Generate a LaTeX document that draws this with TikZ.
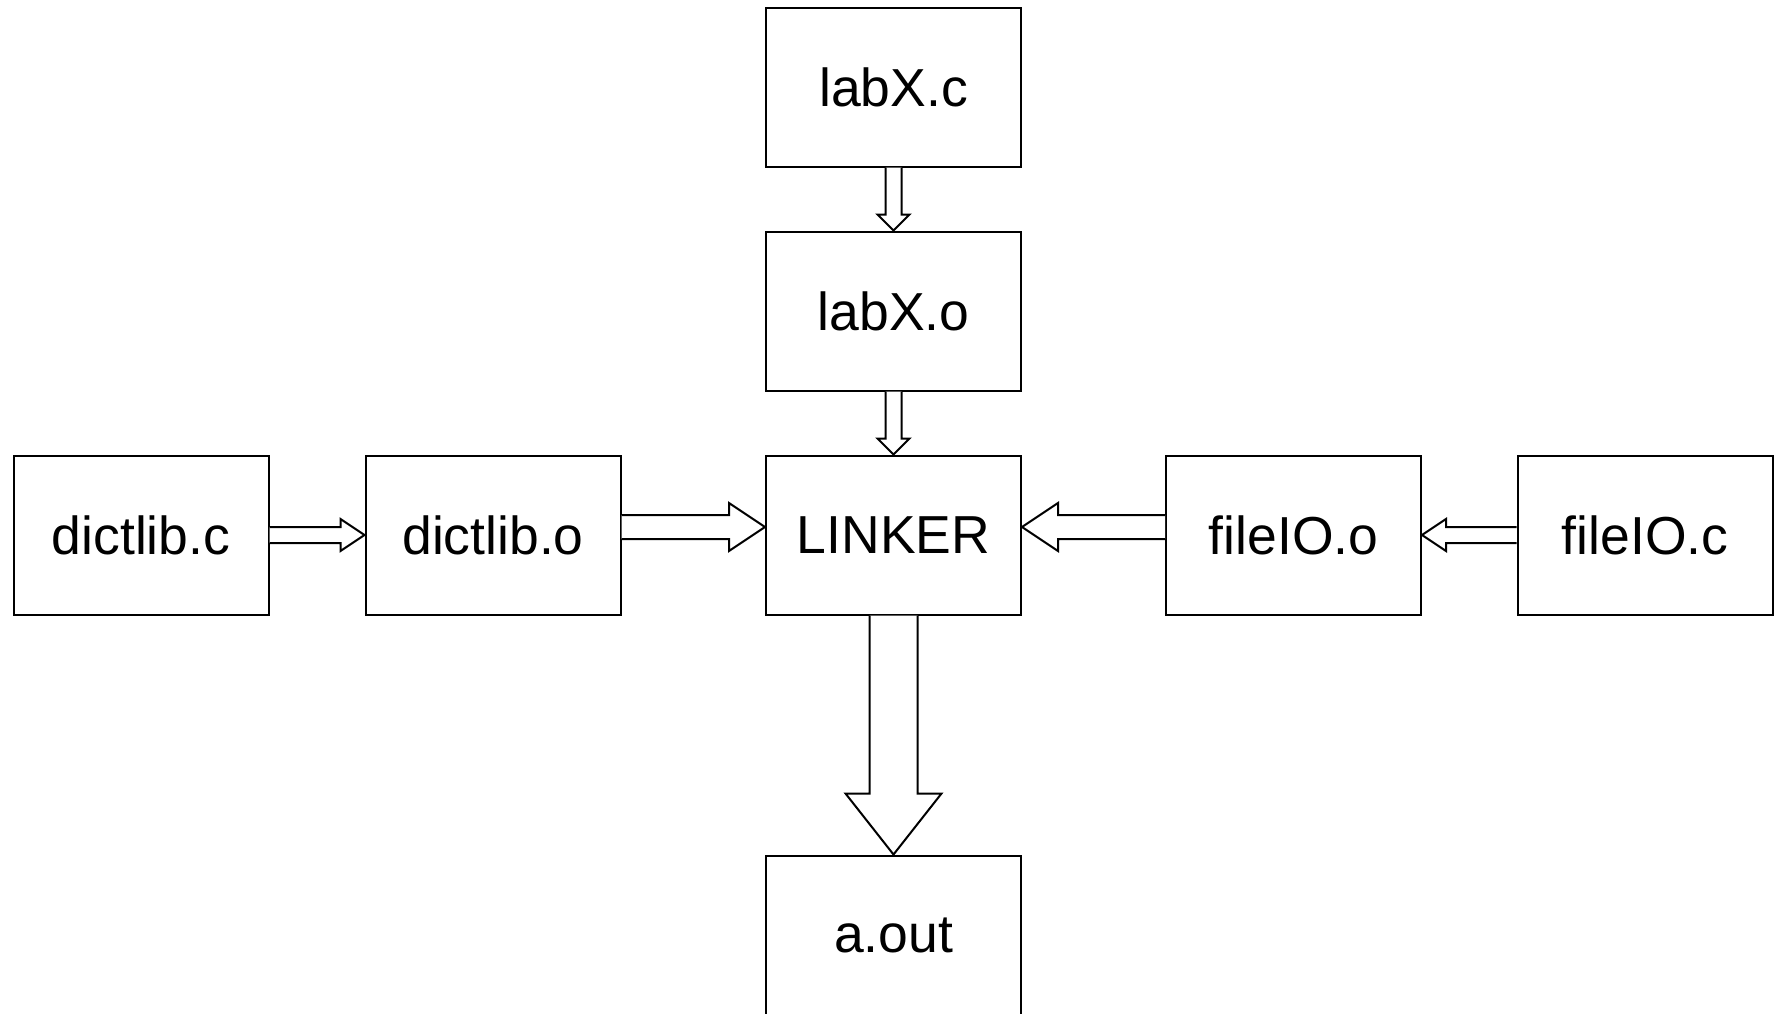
\documentclass[tikz,border=0pt]{standalone}
\usepackage{fontspec}
\setmainfont{Liberation Sans}
\usetikzlibrary{calc}
\tikzset{
  box/.style={draw=black, line width=2pt, minimum width=255pt, minimum height=159pt, inner sep=0pt, font=\fontsize{53.5}{60}\selectfont},
  blk/.style={draw=black, line width=2pt, fill=white, line join=miter}
}
\begin{document}
\begin{tikzpicture}[x=1pt,y=-1pt]
\useasboundingbox (0,0) rectangle (1778,1013);
\node[box] (labxc) at (893.5,87) {labX.c};
\node[box] (labxo) at (893.5,311) {labX.o};
\node[box] (linker) at (893.5,535) {LINKER};
\node[box] (aout) at (893.5,935) {a.out};
\node[box] (dictc) at (141,535) {dictlib.c};
\node[box] (dicto) at (493,535) {dictlib.o};
\node[box] (fileo) at (1293.5,535) {fileIO.o};
\node[box] (filec) at (1645,535) {fileIO.c};
% labX.c -> labX.o
\draw[blk] ($(labxc.south)+(-8,0)$) -- ($(labxo.north)+(-8,-16)$) -- ($(labxo.north)+(-16,-16)$) -- (labxo.north)
  -- ($(labxo.north)+(16,-16)$) -- ($(labxo.north)+(8,-16)$) -- ($(labxc.south)+(8,0)$);
% labX.o -> LINKER
\draw[blk] ($(labxo.south)+(-8,0)$) -- ($(linker.north)+(-8,-16)$) -- ($(linker.north)+(-16,-16)$) -- (linker.north)
  -- ($(linker.north)+(16,-16)$) -- ($(linker.north)+(8,-16)$) -- ($(labxo.south)+(8,0)$);
% LINKER -> a.out
\draw[blk] ($(linker.south)+(-24,0)$) -- ($(aout.north)+(-24,-61)$) -- ($(aout.north)+(-48,-61)$) -- (aout.north)
  -- ($(aout.north)+(48,-61)$) -- ($(aout.north)+(24,-61)$) -- ($(linker.south)+(24,0)$);
% dictlib.c -> dictlib.o
\draw[blk] ($(dictc.east)+(0,-8)$) -- ($(dicto.west)+(-24,-8)$) -- ($(dicto.west)+(-24,-16)$) -- (dicto.west)
  -- ($(dicto.west)+(-24,16)$) -- ($(dicto.west)+(-24,8)$) -- ($(dictc.east)+(0,8)$);
% dictlib.o -> LINKER
\draw[blk] ($(dicto.east)+(0,-20)$) -- ($(linker.west)+(-36,-20)$) -- ($(linker.west)+(-36,-32)$) -- ($(linker.west)+(0,-8)$)
  -- ($(linker.west)+(-36,16)$) -- ($(linker.west)+(-36,4)$) -- ($(dicto.east)+(0,4)$);
% fileIO.o -> LINKER
\draw[blk] ($(fileo.west)+(0,-20)$) -- ($(linker.east)+(36,-20)$) -- ($(linker.east)+(36,-32)$) -- ($(linker.east)+(0,-8)$)
  -- ($(linker.east)+(36,16)$) -- ($(linker.east)+(36,4)$) -- ($(fileo.west)+(0,4)$);
% fileIO.c -> fileIO.o
\draw[blk] ($(filec.west)+(0,-8)$) -- ($(fileo.east)+(24,-8)$) -- ($(fileo.east)+(24,-16)$) -- (fileo.east)
  -- ($(fileo.east)+(24,16)$) -- ($(fileo.east)+(24,8)$) -- ($(filec.west)+(0,8)$);
\end{tikzpicture}
\end{document}
